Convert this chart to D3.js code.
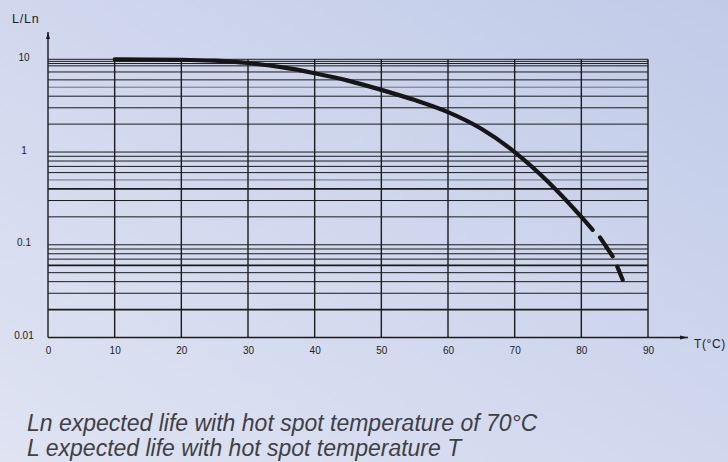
<!DOCTYPE html>
<html>
<head>
<meta charset="utf-8">
<script src="https://cdn.jsdelivr.net/npm/d3@7"></script>
<style>
  body { margin: 0; }
  #chart1 svg { display: block; }
</style>
</head>
<body>
<div id="chart1"></div>
<script>
// data (T in degC, L/Ln ratio), null = gap in the drawn curve
var temps  = [10, 20, 25, 30, 35, 40, 45, 50, 55, 60, 65, 70, 75, 80, 81.7, null, 82.8, 84.7, null, 85.4, 86.2];
var ratios = [10, 9.89, 9.66, 9.12, 8.22, 7.08, 5.89, 4.68, 3.63, 2.69, 1.78, 1.0, 0.479, 0.2, 0.145, null, 0.12, 0.075, null, 0.058, 0.042];

var xTicks = [0, 10, 20, 30, 40, 50, 60, 70, 80, 90];
var yTicks = [10, 1, 0.1, 0.01];
var yTickLabels = ['10', '1', '0.1', '0.01'];
// horizontal rulings of the log paper
var gridValues = [10, 9.5, 9, 8.5, 7.3, 6, 5, 4, 3, 2,
                  1, 0.9, 0.8, 0.7, 0.6, 0.5, 0.4, 0.3, 0.2,
                  0.1, 0.09, 0.08, 0.07, 0.06, 0.05, 0.04, 0.03, 0.02];
var heavyLines = [0.4, 0.06, 0.02];
var lightLines = [5, 0.5];

var notes = ['Ln expected life with hot spot temperature of 70°C',
             'L expected life with hot spot temperature T'];

var width = 728, height = 462;

var svg = d3.select('#chart1')
  .append('svg')
  .attr('width', width)
  .attr('height', height);

// background gradient
var defs = svg.append('defs');
var grad = defs.append('linearGradient')
  .attr('id', 'bg')
  .attr('x1', '100%').attr('y1', '0%')
  .attr('x2', '0%').attr('y2', '100%');
grad.append('stop').attr('offset', '0%').attr('stop-color', '#c1cbe8');
grad.append('stop').attr('offset', '55%').attr('stop-color', '#d2d9ee');
grad.append('stop').attr('offset', '100%').attr('stop-color', '#dfe3f2');

svg.append('rect')
  .attr('width', width)
  .attr('height', height)
  .attr('fill', 'url(#bg)');

var x = d3.scaleLinear().domain([0, 90]).range([48, 648]);
var y = d3.scaleLog().domain([0.01, 10]).range([337.5, 59.3]);

var ink = '#1c1c1c';

// horizontal grid
svg.append('g').selectAll('line')
  .data(gridValues)
  .enter().append('line')
  .attr('x1', x(0))
  .attr('x2', x(90))
  .attr('y1', d => y(d))
  .attr('y2', d => y(d))
  .attr('stroke', d => lightLines.includes(d) ? '#6e7280' : ink)
  .attr('stroke-width', d => heavyLines.includes(d) ? 1.8 : 1);

// vertical grid
svg.append('g').selectAll('line')
  .data(xTicks.slice(1))
  .enter().append('line')
  .attr('x1', d => x(d))
  .attr('x2', d => x(d))
  .attr('y1', y(10))
  .attr('y2', y(0.01))
  .attr('stroke', ink)
  .attr('stroke-width', 1.4);

// axes lines with arrows
svg.append('line')
  .attr('x1', x(0)).attr('x2', 688)
  .attr('y1', y(0.01)).attr('y2', y(0.01))
  .attr('stroke', ink).attr('stroke-width', 1.4);
svg.append('path')
  .attr('d', 'M688,' + y(0.01) + 'l-8,-2l0,4z')
  .attr('fill', ink);

svg.append('line')
  .attr('x1', x(0)).attr('x2', x(0))
  .attr('y1', y(0.01)).attr('y2', 32)
  .attr('stroke', ink).attr('stroke-width', 1.4);
svg.append('path')
  .attr('d', 'M' + x(0) + ',32l-2,7l4,0z')
  .attr('fill', ink);

// tick labels via d3 axes
var xAxis = svg.append('g')
  .attr('transform', 'translate(0,' + (y(0.01) + 6) + ')')
  .call(d3.axisBottom(x).tickValues(xTicks).tickSize(0).tickFormat(d3.format('d')));
xAxis.select('.domain').remove();
xAxis.selectAll('text')
  .style('font-family', 'Liberation Sans, Arial, sans-serif')
  .style('font-size', '10px')
  .attr('fill', '#222');

var yAxis = svg.append('g')
  .attr('transform', 'translate(' + x(0) + ',0)')
  .call(d3.axisLeft(y).tickValues(yTicks).tickSize(0).tickFormat((d, i) => yTickLabels[i]));
yAxis.select('.domain').remove();
yAxis.selectAll('text')
  .attr('x', -24)
  .attr('dy', '0.1em')
  .attr('text-anchor', 'middle')
  .style('font-family', 'Liberation Sans, Arial, sans-serif')
  .style('font-size', '10px')
  .attr('fill', '#222');

// axis titles
svg.append('text')
  .attr('x', 12)
  .attr('y', 23)
  .style('font-family', 'Liberation Sans, Arial, sans-serif')
  .style('font-size', '12.5px')
  .style('letter-spacing', '0.8px')
  .attr('fill', '#222')
  .text('L/Ln');

svg.append('text')
  .attr('x', 694)
  .attr('y', 348)
  .style('font-family', 'Liberation Sans, Arial, sans-serif')
  .style('font-size', '12px')
  .style('letter-spacing', '0.6px')
  .attr('fill', '#222')
  .text('T(°C)');

// life curve
var pts = temps.map((t, i) => ({ t: t, r: ratios[i] }));
var line = d3.line()
  .defined(d => d.t !== null)
  .x(d => x(d.t))
  .y(d => y(d.r))
  .curve(d3.curveMonotoneX);

svg.append('path')
  .datum(pts)
  .attr('d', line)
  .attr('fill', 'none')
  .attr('stroke', '#161616')
  .attr('stroke-width', 4.2)
  .attr('stroke-linecap', 'round');

// footnotes
svg.append('g').selectAll('text')
  .data(notes)
  .enter().append('text')
  .attr('x', 27)
  .attr('y', (d, i) => 431 + i * 25)
  .style('font-family', 'Liberation Sans, Arial, sans-serif')
  .style('font-style', 'italic')
  .style('font-size', '23px')
  .attr('fill', '#404046')
  .text(d => d);
</script>
</body>
</html>
